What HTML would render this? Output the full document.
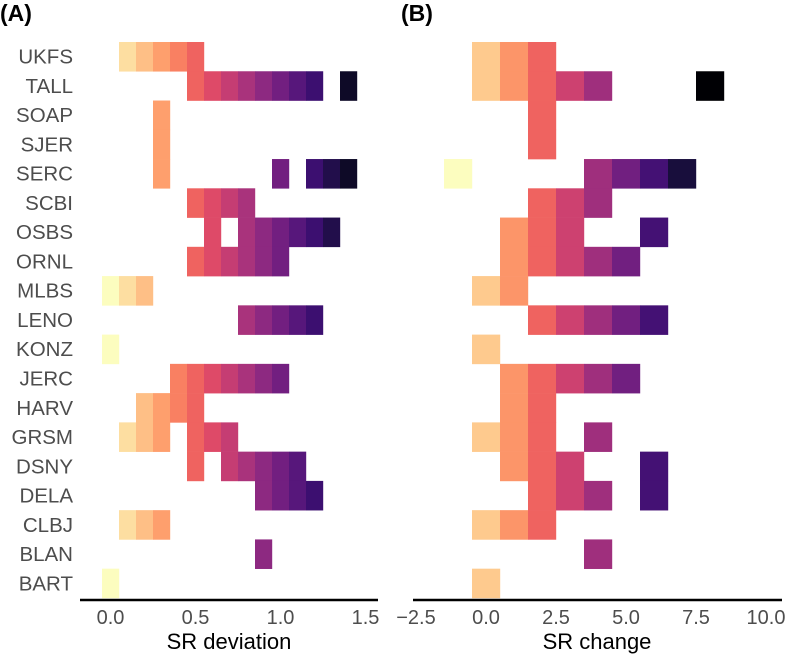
<!DOCTYPE html>
<html><head><meta charset="utf-8"><style>
body{margin:0;background:#fff;}
svg{display:block;font-family:"Liberation Sans",sans-serif;}
</style></head><body>
<svg id="c" width="787" height="654"></svg>
<script>
const sites=["UKFS","TALL","SOAP","SJER","SERC","SCBI","OSBS","ORNL","MLBS","LENO","KONZ","JERC","HARV","GRSM","DSNY","DELA","CLBJ","BLAN","BART"];
// SR deviation bins (x0.1) per site
const devBins=[[1,2,3,4,5],[5,6,7,8,9,10,11,12,14],[3],[3],[3,10,12,13,14],[5,6,7,8],[6,8,9,10,11,12,13],[5,6,7,8,9,10],[0,1,2],[8,9,10,11,12],[0],[4,5,6,7,8,9,10],[2,3,4,5],[1,2,3,5,6,7],[5,7,8,9,10,11],[9,10,11,12],[1,2,3],[9],[0]];
// SR change bins per site
const chgBins=[[0,1,2],[0,1,2,3,4,8],[2],[2],[-1,4,5,6,7],[2,3,4],[1,2,3,6],[1,2,3,4,5],[0,1],[2,3,4,5,6],[0],[1,2,3,4,5],[1,2],[0,1,2,4],[1,2,3,6],[2,3,4,6],[0,1,2],[4],[0]];
const devTicks=[0,0.5,1.0,1.5];
const chgTicks=[-2.5,0,2.5,5,7.5,10];

const NS="http://www.w3.org/2000/svg";
const svg=document.getElementById('c');
function mk(t,a,p){const e=document.createElementNS(NS,t);for(const k in a)e.setAttribute(k,a[k]);(p||svg).appendChild(e);return e;}
const stops=["#000004","#140e36","#3b0f70","#641a80","#8c2981","#b73779","#de4968","#f7705c","#fe9f6d","#fecf92","#fcfdbf"];
function hx(h){return [1,3,5].map(i=>parseInt(h.substr(i,2),16));}
function magma(t){t=Math.max(0,Math.min(1,t));const s=t*10,i=Math.min(9,Math.floor(s)),f=s-i;const a=hx(stops[i]),b=hx(stops[i+1]);return "rgb("+a.map((v,k)=>Math.round(v+(b[k]-v)*f)).join(",")+")";}
const rowTop=42,rowH=29.26;
const yRow=i=>rowTop+rowH*i;
const xDev=v=>110.5+v*170;
const xChg=v=>486+v*28;

sites.forEach((s,i)=>{const t=mk('text',{x:73,y:yRow(i)+rowH/2+7,'text-anchor':'end','font-size':20.5,fill:'#4d4d4d'});t.textContent=s;

});

devBins.forEach((arr,i)=>arr.forEach(b=>{const v=b/10;const r=mk('rect',{x:xDev(v)-8.5,y:yRow(i),width:17.2,height:rowH+0.3,fill:magma(0.07+0.93*(1.4-v)/1.4)});

}));
chgBins.forEach((arr,i)=>arr.forEach(v=>{const r=mk('rect',{x:xChg(v)-14,y:yRow(i),width:28.2,height:rowH+0.3,fill:magma((8-v)/9)});

}));

let a=mk('line',{x1:80,x2:378,y1:600,y2:600,stroke:'#000','stroke-width':2.5});

a=mk('line',{x1:413,x2:782,y1:600,y2:600,stroke:'#000','stroke-width':2.5});

devTicks.forEach(v=>{const t=mk('text',{x:xDev(v),y:624,'text-anchor':'middle','font-size':20,fill:'#4d4d4d'});t.textContent=v.toFixed(1);
});
chgTicks.forEach(v=>{const t=mk('text',{x:xChg(v),y:624,'text-anchor':'middle','font-size':20,fill:'#4d4d4d'});t.textContent=(v<0?'\u2212':'')+Math.abs(v).toFixed(1);
});
let t=mk('text',{x:229,y:649,'text-anchor':'middle','font-size':22,fill:'#000'});t.textContent='SR deviation';

t=mk('text',{x:597,y:649,'text-anchor':'middle','font-size':22,fill:'#000'});t.textContent='SR change';

t=mk('text',{x:0,y:21,'font-size':23,'font-weight':'bold',fill:'#000'});t.textContent='(A)';

t=mk('text',{x:401,y:21,'font-size':23,'font-weight':'bold',fill:'#000'});t.textContent='(B)';

</script>
</body></html>
